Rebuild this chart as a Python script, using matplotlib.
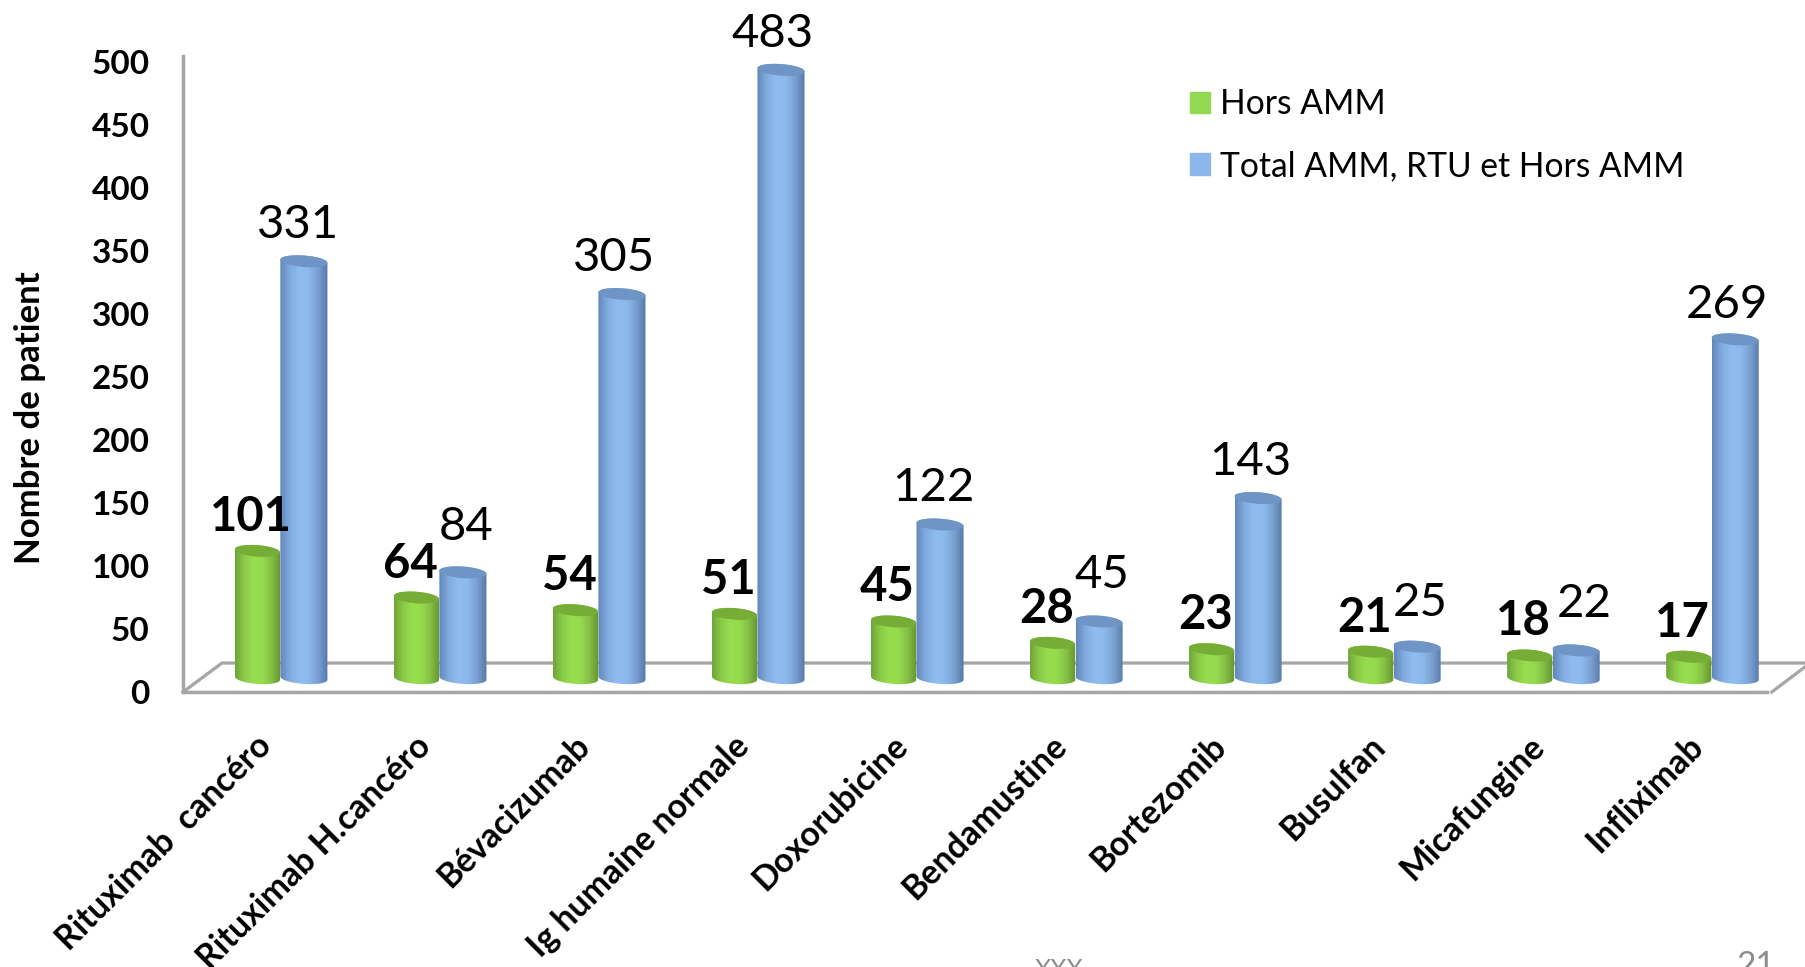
import numpy as np
import matplotlib
matplotlib.use('Agg')
import matplotlib.pyplot as plt
from matplotlib.colors import LinearSegmentedColormap
from matplotlib.patches import Patch, PathPatch
from matplotlib.path import Path

categories = ['Rituximab  cancéro', 'Rituximab H.cancéro', 'Bévacizumab', 'Ig humaine normale', 'Doxorubicine',
              'Bendamustine', 'Bortezomib', 'Busulfan', 'Micafungine', 'Infliximab']
hors_amm = [101, 64, 54, 51, 45, 28, 23, 21, 18, 17]
total_amm = [331, 84, 305, 483, 122, 45, 143, 25, 22, 269]
yticks = list(range(0, 501, 50))

GREY = '#a6a6a6'
FLOOR = 11      # bars stand a little behind the front edge of the floor
B, TILT = 4.6, 1.3
FIG_W, FIG_H = 1805, 967
PX = 0.72       # points per pixel at dpi 100

plt.rcParams['font.family'] = ['Lato', 'DejaVu Sans']

green_map = LinearSegmentedColormap.from_list('g', ['#6fa53a', '#8ccb48', '#98dd50', '#96da4e', '#84c044', '#66962f'])
blue_map = LinearSegmentedColormap.from_list('b', ['#6288bb', '#82abdf', '#90bdf1', '#8db9ec', '#7aa0d2', '#567aa8'])


def cylinder(ax, xc, w, value, cmap, top_color):
    """ Body is a gradient clipped to the outline, top is a tilted ellipse"""
    top = FLOOR + value
    t = np.linspace(np.pi, 0, 40)
    x_arc = xc + w * np.cos(t)
    back = top + B * np.sin(t) - TILT * np.cos(t)
    front = FLOOR - B * np.sin(t[::-1]) - TILT * np.cos(t[::-1])
    xs = np.r_[x_arc, x_arc[::-1], x_arc[0]]
    ys = np.r_[back, front, back[0]]
    clip = PathPatch(Path(np.c_[xs, ys]), transform=ax.transData, fc='none', ec='none')
    ax.add_patch(clip)
    grad = np.linspace(0, 1, 64).reshape(1, -1)
    im = ax.imshow(grad, cmap=cmap, aspect='auto', extent=(xc - w, xc + w, FLOOR - 10, top + 10), zorder=3)
    im.set_clip_path(clip)
    tt = np.linspace(0, 2 * np.pi, 60)
    ax.fill(xc + w * np.cos(tt), top + B * np.sin(tt) - TILT * np.cos(tt), color=top_color, zorder=4, lw=0)


fig = plt.figure(figsize=(FIG_W / 100, FIG_H / 100), dpi=100)
ax = fig.add_axes([183 / FIG_W, (FIG_H - 692) / FIG_H, (1767 - 183) / FIG_W, 636 / FIG_H])

for i, (g, b) in enumerate(zip(hors_amm, total_amm)):
    cylinder(ax, i - 0.142, 0.142, g, green_map, '#76ad37')
    cylinder(ax, i + 0.15, 0.148, b, blue_map, '#6f94c6')

ax.set_xlim(-0.61, 9.35)
ax.set_ylim(0, 505)

# floor of the 3D box
ax.plot([-0.61, -0.365, 9.6], [0, 23, 23], color=GREY, lw=2.5 * PX * 1.3, clip_on=False, zorder=1)
ax.plot([9.38, 9.6], [0, 21], color=GREY, lw=2.5 * PX * 1.3, clip_on=False, zorder=1)

for side in ('top', 'right'):
    ax.spines[side].set_visible(False)
for side in ('left', 'bottom'):
    ax.spines[side].set_color(GREY)
    ax.spines[side].set_linewidth(2.5)

ax.set_yticks(yticks)
ax.tick_params(axis='y', length=0, pad=24, labelsize=24)
for lbl in ax.get_yticklabels():
    lbl.set_fontweight('bold')
# labels end left of the bar pair, so the ticks (not drawn) sit there
ax.set_xticks(np.arange(len(categories)) - 0.155)
ax.set_xticklabels(categories, rotation=45, ha='right', rotation_mode='anchor', fontsize=24.4, fontweight='bold')
ax.tick_params(axis='x', length=0, pad=27)
fig.text(30 / FIG_W, (FIG_H - 418) / FIG_H, 'Nombre de patient', rotation=90, ha='center', va='center',
         fontsize=25, fontweight='bold')

# value labels, offsets in pixels as the chart moved them by hand
green_dy = [34, 34, 34, 34, 34, 34, 34, 34, 34, 34]
blue_dx = [-6, 3, -8, -8, -7, 3, -8, 3, 8, -8]
blue_dy = [36, 45, 36, 36, 36, 46, 36, 44, 46, 34]
for i, (g, b) in enumerate(zip(hors_amm, total_amm)):
    ax.annotate(str(g), (i - 0.142, FLOOR + g), xytext=(-6 * PX, green_dy[i] * PX), textcoords='offset points',
                ha='center', va='center', fontsize=34, fontweight='bold', zorder=6, annotation_clip=False)
    ax.annotate(str(b), (i + 0.15, FLOOR + b), xytext=(blue_dx[i] * PX, blue_dy[i] * PX), textcoords='offset points',
                ha='center', va='center', fontsize=34, zorder=6, annotation_clip=False)

handles = [Patch(color='#92d850', label='Hors AMM'), Patch(color='#8db6ea', label='Total AMM, RTU et Hors AMM')]
fig.legend(handles=handles, loc='upper left', bbox_to_anchor=(1160 / FIG_W, 1 - 58 / FIG_H), frameon=False,
           fontsize=24.2, handlelength=0.6, handleheight=0.6, handletextpad=0.3, labelspacing=0.88)

fig.text(1059 / FIG_W, (FIG_H - 958) / FIG_H, 'XXX', color='#8c8c8c', fontsize=18, ha='center', va='top')
fig.text(1756 / FIG_W, (FIG_H - 951) / FIG_H, '21', color='#8c8c8c', fontsize=24, ha='center', va='top')

fig.savefig('out.png', dpi=100)
